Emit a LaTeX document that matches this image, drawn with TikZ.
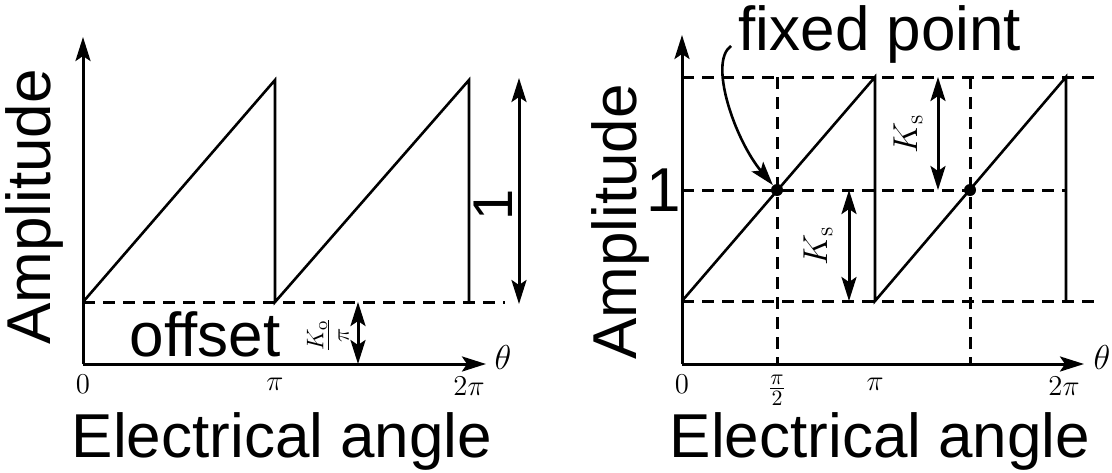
\documentclass[tikz,border=0pt]{standalone}
\usepackage[no-math]{fontspec}
\newfontfamily\jp{Liberation Sans}
\usetikzlibrary{arrows.meta}
\tikzset{
  tipS/.tip={Stealth[length=12pt,width=7.5pt,inset=2.5pt]},
  axis/.style={line width=1.5pt,-tipS},
  saw/.style={line width=1.3pt,line join=miter},
  dashln/.style={line width=1.5pt,dash pattern=on 6pt off 4pt},
  dim/.style={line width=1.5pt,tipS-tipS},
  big/.style={font=\jp\fontsize{31}{36}\selectfont,inner sep=0pt},
  lab/.style={font=\fontsize{15}{17}\selectfont,inner sep=0pt},
  dot/.style={circle,fill=black,inner sep=0pt,minimum size=6pt}
}
\begin{document}
\begin{tikzpicture}[x=0.5pt,y=-0.5pt]
\useasboundingbox (0,0) rectangle (1112,472);
% ---------- left plot ----------
\coordinate (lo) at (83,364);
\coordinate (lytip) at (83,37);
\coordinate (lxtip) at (486,364);
\coordinate (lb0) at (83,302);
\coordinate (lp1) at (275,80);
\coordinate (lb1) at (275,302);
\coordinate (lp2) at (469,80);
\coordinate (lb2) at (469,302);
\coordinate (ldend) at (505,302);
\coordinate (lat) at (519,78);
\coordinate (lab) at (519,304);
\coordinate (lot) at (358,302);
\coordinate (lob) at (358,364);
\draw[dashln] (lb0) -- (ldend);
\draw[saw] (lb0) -- (lp1) -- (lb1) -- (lp2) -- (lb2);
\draw[axis] (lo) -- (lytip);
\draw[axis] (lo) -- (lxtip);
\draw[dim] (lat) -- (lab);
\draw[dim] (lot) -- (lob);
\node[big,rotate=90] (lamp) at (34,207) {Amplitude};
\node[big] (lel) at (282,441) {Electrical angle};
\node[big] (loff) at (205,334) {offset};
\node[big,rotate=90,font=\jp\fontsize{28}{32}\selectfont] (lone) at (493,205) {1};
\node[lab,rotate=90,font=\fontsize{18}{20}\selectfont] (lko) at (328,335) {$\frac{K_{\mathrm{o}}}{\pi}$};
\node[lab,font=\fontsize{17}{19}\selectfont] (lth) at (503,357) {$\theta$};
\node[lab] (l0) at (83,384) {$0$};
\node[lab] (lpi) at (275,384) {$\pi$};
\node[lab] (l2pi) at (469,386) {$2\pi$};
% ---------- right plot ----------
\coordinate (ro) at (682,364);
\coordinate (rytip) at (682,35);
\coordinate (rxtip) at (1084,364);
\coordinate (rt0) at (682,77);
\coordinate (rtend) at (1100,77);
\coordinate (rm0) at (682,190);
\coordinate (rmend) at (1066,190);
\coordinate (rb0) at (682,301);
\coordinate (rbend) at (1100,301);
\coordinate (rv1t) at (777,77);
\coordinate (rv1b) at (777,364);
\coordinate (rv2t) at (970,77);
\coordinate (rv2b) at (970,364);
\coordinate (rp1) at (875,77);
\coordinate (rb1) at (875,301);
\coordinate (rp2) at (1066,77);
\coordinate (rb2) at (1066,301);
\draw[dashln] (rt0) -- (rtend);
\draw[dashln] (rm0) -- (rmend);
\draw[dashln] (rb0) -- (rbend);
\draw[dashln] (rv1t) -- (rv1b);
\draw[dashln] (rv2t) -- (rv2b);
\draw[saw] (rb0) -- (rp1) -- (rb1) -- (rp2) -- (rb2);
\draw[axis] (ro) -- (rytip);
\draw[axis] (ro) -- (rxtip);
\node[dot] (fp1) at (777,190) {};
\node[dot] (fp2) at (970,190) {};
\coordinate (ka1) at (938,77);
\coordinate (ka2) at (938,190);
\coordinate (kb1) at (849,190);
\coordinate (kb2) at (849,301);
\draw[dim] (ka1) -- (ka2);
\draw[dim] (kb1) -- (kb2);
\node[lab,rotate=90,font=\fontsize{17}{19}\selectfont] (rks1) at (908,134) {$K_{\mathrm{s}}$};
\node[lab,rotate=90,font=\fontsize{17}{19}\selectfont] (rks2) at (818,246) {$K_{\mathrm{s}}$};
\node[big,rotate=90] (ramp) at (620,222) {Amplitude};
\node[big] (rel) at (880,441) {Electrical angle};
\node[big] (rfix) at (880,34) {fixed point};
\node[big] (rone) at (664,190) {1};
\coordinate (cstart) at (731,46);
\draw[line width=1.3pt,-tipS] (cstart) .. controls (708,62) and (735,140) .. (fp1);
\node[lab,font=\fontsize{17}{19}\selectfont] (rth) at (1102,357) {$\theta$};
\node[lab] (r0) at (682,384) {$0$};
\node[lab] (rpi2) at (777,390) {$\frac{\pi}{2}$};
\node[lab] (rpi) at (875,384) {$\pi$};
\node[lab] (r2pi) at (1064,386) {$2\pi$};
\end{tikzpicture}
\end{document}
